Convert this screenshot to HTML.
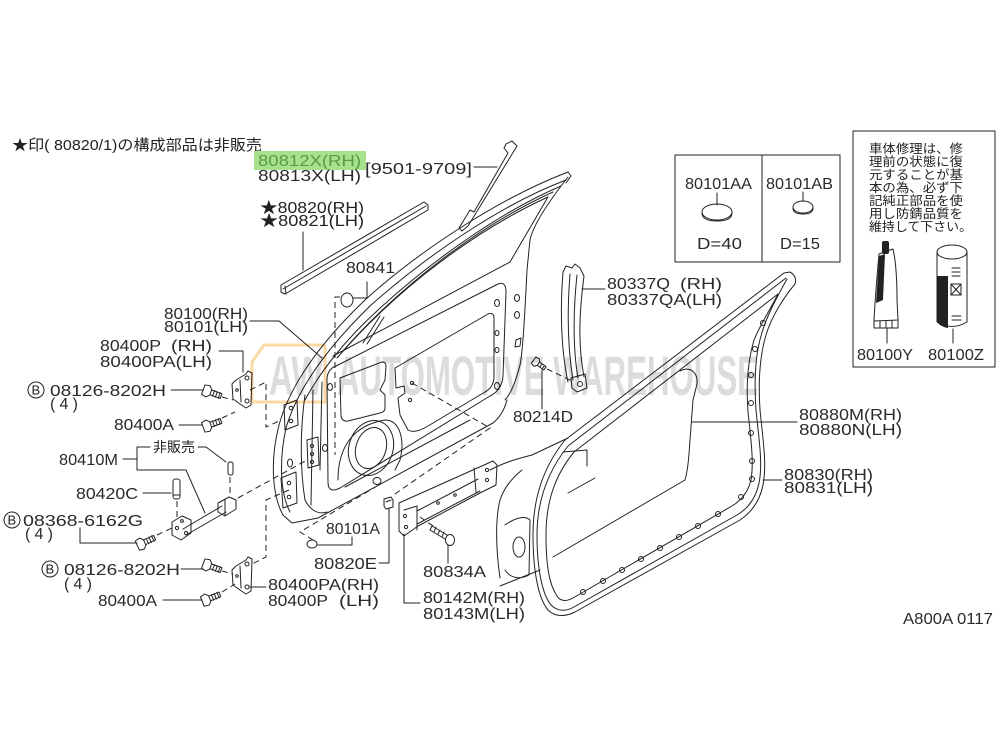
<!DOCTYPE html>
<html><head><meta charset="utf-8"><style>
html,body{margin:0;padding:0;background:#fff;}
svg{display:block;}
.l{fill:none;stroke:#222;stroke-width:1;stroke-linejoin:round;stroke-linecap:round}
.w{fill:#fff;stroke:#222;stroke-width:1;stroke-linejoin:round}
.d{fill:none;stroke:#222;stroke-width:1;stroke-dasharray:6 4}
.t{font-family:"Liberation Sans",sans-serif;font-size:16px;fill:#2a2a2a}
.j{font-family:"Liberation Sans","Noto Sans CJK JP",sans-serif;fill:#222}
.b{font-family:"Liberation Sans",sans-serif;font-size:13px;fill:#222}
.k{fill:#222;stroke:none}
</style></head><body>
<svg width="1000" height="750" viewBox="0 0 1000 750" xmlns="http://www.w3.org/2000/svg">
<rect width="1000" height="750" fill="#fff"/>

<!-- header -->
<text class="j" x="12" y="150" font-size="15" textLength="250" lengthAdjust="spacingAndGlyphs">★印(&#160;80820/1)の構成部品は非販売</text>

<!-- green highlight -->
<rect x="254" y="151" width="112" height="19" fill="#a6e28c"/>
<text class="t" x="258" y="166" textLength="103" lengthAdjust="spacingAndGlyphs" style="fill:#5a9a44">80812X(RH)</text>
<text class="t" x="258" y="181" textLength="103" lengthAdjust="spacingAndGlyphs">80813X(LH)</text>
<text class="t" x="365" y="174" textLength="107" lengthAdjust="spacingAndGlyphs">[9501-9709]</text>
<path class="l" d="M474,167 L497,167"/>

<text class="j" x="260" y="213" font-size="16" textLength="104" lengthAdjust="spacingAndGlyphs">★80820(RH)</text>
<text class="j" x="260" y="226" font-size="16" textLength="104" lengthAdjust="spacingAndGlyphs">★80821(LH)</text>
<path class="l" d="M303,232 L303,270"/>

<text class="t" x="346" y="273" textLength="49" lengthAdjust="spacingAndGlyphs">80841</text>
<path class="l" d="M367,282 L367,298 L353,298"/>

<text class="t" x="164" y="319" textLength="84" lengthAdjust="spacingAndGlyphs">80100(RH)</text>
<text class="t" x="164" y="332" textLength="84" lengthAdjust="spacingAndGlyphs">80101(LH)</text>
<path class="l" d="M250,321 L279,321 L322,358"/>

<text class="t" x="100" y="351" textLength="61" lengthAdjust="spacingAndGlyphs">80400P</text>
<text class="t" x="171" y="351" textLength="41" lengthAdjust="spacingAndGlyphs">(RH)</text>
<text class="t" x="100" y="367" textLength="112" lengthAdjust="spacingAndGlyphs">80400PA(LH)</text>
<path class="l" d="M219,351 L243,351 L243,372"/>

<circle class="l" cx="36" cy="390" r="8"/><text class="b" x="31.5" y="394.5">B</text>
<text class="t" x="50" y="396" textLength="116" lengthAdjust="spacingAndGlyphs">08126-8202H</text>
<text class="t" x="50" y="409" textLength="28" lengthAdjust="spacing">(4)</text>
<path class="l" d="M171,390 L203,390"/>

<text class="t" x="114" y="430" textLength="60" lengthAdjust="spacingAndGlyphs">80400A</text>
<path class="l" d="M179,425 L202,425"/>

<text class="t" x="59" y="465" textLength="59" lengthAdjust="spacingAndGlyphs">80410M</text>
<text class="j" x="153" y="452" font-size="14" textLength="42" lengthAdjust="spacingAndGlyphs">非販売</text>
<path class="l" d="M123,459 L137,459 M137,447 L137,470 M137,447 L150,447 M198,447 L206,447 L226,462 M137,470 L186,470 L205,513"/>

<text class="t" x="76" y="499" textLength="62" lengthAdjust="spacingAndGlyphs">80420C</text>
<path class="l" d="M143,493 L171,493"/>

<circle class="l" cx="12" cy="520" r="8"/><text class="b" x="7.5" y="524.5">B</text>
<text class="t" x="23" y="526" textLength="120" lengthAdjust="spacingAndGlyphs">08368-6162G</text>
<text class="t" x="25" y="539" textLength="28" lengthAdjust="spacing">(4)</text>
<path class="l" d="M80,528 L80,543 L137,543"/>

<circle class="l" cx="50" cy="569" r="8"/><text class="b" x="45.5" y="573.5">B</text>
<text class="t" x="64" y="575" textLength="116" lengthAdjust="spacingAndGlyphs">08126-8202H</text>
<text class="t" x="64" y="589" textLength="28" lengthAdjust="spacing">(4)</text>
<path class="l" d="M181,569 L203,569"/>

<text class="t" x="98" y="606" textLength="59" lengthAdjust="spacingAndGlyphs">80400A</text>
<path class="l" d="M163,600 L202,600"/>

<text class="t" x="268" y="590" textLength="111" lengthAdjust="spacingAndGlyphs">80400PA(RH)</text>
<text class="t" x="268" y="606" textLength="60" lengthAdjust="spacingAndGlyphs">80400P</text>
<text class="t" x="339" y="606" textLength="40" lengthAdjust="spacingAndGlyphs">(LH)</text>
<path class="l" d="M250,587 L266,587"/>

<text class="t" x="326" y="534" textLength="54" lengthAdjust="spacingAndGlyphs">80101A</text>
<path class="l" d="M352,537 L352,545 L318,545"/>
<text class="t" x="314" y="569" textLength="63" lengthAdjust="spacingAndGlyphs">80820E</text>
<path class="l" d="M379,563 L389,563 L389,508"/>
<text class="t" x="423" y="577" textLength="63" lengthAdjust="spacingAndGlyphs">80834A</text>
<path class="l" d="M448,563 L448,545"/>
<text class="t" x="423" y="603" textLength="102" lengthAdjust="spacingAndGlyphs">80142M(RH)</text>
<text class="t" x="423" y="619" textLength="102" lengthAdjust="spacingAndGlyphs">80143M(LH)</text>
<path class="l" d="M420,603 L404,603 L404,534"/>

<text class="t" x="513" y="422" textLength="60" lengthAdjust="spacingAndGlyphs">80214D</text>
<path class="l" d="M542,409 L542,370"/>

<text class="t" x="607" y="289" textLength="63" lengthAdjust="spacingAndGlyphs">80337Q</text>
<text class="t" x="680" y="289" textLength="42" lengthAdjust="spacingAndGlyphs">(RH)</text>
<text class="t" x="607" y="305" textLength="115" lengthAdjust="spacingAndGlyphs">80337QA(LH)</text>
<path class="l" d="M582,289 L605,289"/>

<text class="t" x="799" y="420" textLength="103" lengthAdjust="spacingAndGlyphs">80880M(RH)</text>
<text class="t" x="799" y="435" textLength="103" lengthAdjust="spacingAndGlyphs">80880N(LH)</text>
<path class="l" d="M692,422 L797,422"/>
<text class="t" x="784" y="480" textLength="89" lengthAdjust="spacingAndGlyphs">80830(RH)</text>
<text class="t" x="784" y="493" textLength="89" lengthAdjust="spacingAndGlyphs">80831(LH)</text>
<path class="l" d="M763,480 L782,480"/>

<text class="t" x="903" y="624" textLength="90" lengthAdjust="spacingAndGlyphs" xml:space="preserve">A800A 0117</text>

<!-- grommet box -->
<rect class="l" x="675" y="155" width="165" height="107"/>
<path class="l" d="M762,155 L762,262"/>
<text class="t" x="685" y="189" textLength="67" lengthAdjust="spacingAndGlyphs">80101AA</text>
<text class="t" x="766" y="189" textLength="67" lengthAdjust="spacingAndGlyphs">80101AB</text>
<path class="l" d="M717,193 L717,205 M803,192 L803,201"/>
<ellipse class="l" cx="717" cy="212" rx="15" ry="8"/>
<path class="l" d="M702,213 Q702,221 717,221 Q732,221 732,213"/>
<ellipse class="l" cx="803" cy="207" rx="10" ry="6"/>
<path class="l" d="M793,208 Q793,214 803,214 Q813,214 813,208"/>
<text class="t" x="697" y="249" textLength="45" lengthAdjust="spacingAndGlyphs">D=40</text>
<text class="t" x="780" y="249" textLength="40" lengthAdjust="spacingAndGlyphs">D=15</text>

<!-- repair box -->
<rect class="l" x="853" y="131" width="142" height="236"/>
<g class="j" font-size="12.5">
<text x="869" y="153" textLength="94" lengthAdjust="spacingAndGlyphs">車体修理は、修</text>
<text x="869" y="166" textLength="94" lengthAdjust="spacingAndGlyphs">理前の状態に復</text>
<text x="869" y="179" textLength="94" lengthAdjust="spacingAndGlyphs">元することが基</text>
<text x="869" y="192" textLength="94" lengthAdjust="spacingAndGlyphs">本の為、必ず下</text>
<text x="869" y="205" textLength="94" lengthAdjust="spacingAndGlyphs">記純正部品を使</text>
<text x="869" y="218" textLength="94" lengthAdjust="spacingAndGlyphs">用し防錆品質を</text>
<text x="869" y="231" textLength="103" lengthAdjust="spacingAndGlyphs">維持して下さい。</text>
</g>
<!-- tube -->
<rect class="k" x="882" y="241" width="7" height="13" rx="2"/>
<path class="l" d="M879,254 L893,249 C896,262 897,282 897,300 L898,320 L874,321 C875,300 877,276 879,254 Z"/>
<path class="k" d="M879,256 L885,254 L883,300 L876,303 Z"/>
<path class="l" d="M874,321 L874,328 L898,328 L898,320 M880,321 L880,328 M886,321 L886,328 M892,321 L892,328 M887,328 L887,343"/>
<!-- can -->
<ellipse class="l" cx="952" cy="252" rx="15" ry="7"/>
<path class="l" d="M937,252 L937,322 Q952,331 967,322 L967,252"/>
<path class="k" d="M937,276 L948,276 L948,328 Q941,327 937,322 Z"/>
<rect class="l" x="951" y="284" width="10" height="11"/>
<path class="l" d="M951,284 L961,295 M961,284 L951,295 M952,268 L960,268 M952,272 L960,272 M952,276 L960,276 M952,316 L961,316 M952,320 L961,320 M953,329 L953,343"/>
<text class="t" x="857" y="360" textLength="56" lengthAdjust="spacingAndGlyphs">80100Y</text>
<text class="t" x="928" y="360" textLength="56" lengthAdjust="spacingAndGlyphs">80100Z</text>

<!-- 80812X strip -->
<path class="l" d="M506,144 L512,141 L517,146 L468,226 L462,231 L459,228 L470,210 L474,212 L508,153 L504,148 Z"/>
<!-- 80820 strip -->
<path class="l" d="M281,285 L424,202 L428,205 L428,210 L285,294 L281,292 Z M283,289 L426,206 M285,286 L286,294"/>

<!-- 80841 grommet -->
<ellipse class="l" cx="347" cy="300" rx="6" ry="7"/>
<path class="d" d="M340,297 L335,297 L335,455"/>

<!-- DOOR SHELL -->
<path class="l" d="M568,172 C500,198 420,250 365,300 C320,343 290,385 279,425 C270,460 272,495 283,515 L292,523 L318,518 L493,423 Q503,415 507,400"/>
<path class="l" d="M566,180 C500,205 425,257 370,306 C327,348 297,390 286,428 C279,460 280,493 290,512"/>
<path class="l" d="M561,186 C500,212 430,262 378,310 C345,340 320,372 305,400"/>
<path class="l" d="M553,192 C485,223 405,280 342,352"/>
<path class="l" d="M548,197 C480,228 400,285 337,358"/>
<path class="l" d="M568,172 L571,176 L566,183"/>
<path class="l" d="M568,177 C550,200 533,225 530,240 L527,270 C525,310 523,350 520,365 C516,380 512,392 505,400"/>
<path class="l" d="M548,197 L510,262 L333,356"/>
<path class="l" d="M380,316 L363,343 M384,317 L367,344"/>
<!-- inner panel -->
<path class="l" d="M336,366 L498,284 Q506,281 506,292 L503,376 Q502,390 490,396 L340,488 Q328,494 328,482 L327,378 Q328,369 336,366 Z"/>
<path class="l" d="M340,378 L382,362 Q386,362 386,366 L385,380 L380,390 L385,395 L385,408 Q385,412 380,413 L348,421 Q342,422 341,416 Z"/>
<path class="l" d="M395,368 L488,314 Q494,312 494,318 L494,378 Q493,388 485,392 L428,426 Q415,434 408,430 L400,415 L398,398 L405,393 L404,386 L396,388 Z"/>
<path class="l" d="M338,480 C338,445 355,425 385,420 C400,420 405,440 400,460 L395,470 M345,487 L470,420"/>
<ellipse class="l" cx="371" cy="448" rx="22" ry="28" transform="rotate(18 371 448)"/>
<ellipse class="l" cx="371" cy="448" rx="15" ry="21" transform="rotate(18 371 448)"/>
<!-- front flange -->
<path class="l" d="M305,395 C300,430 300,470 305,500 C310,510 318,515 327,512 M322,382 L320,470 M313,390 L311,505"/>
<path class="l" d="M284,405 L297,400 L298,425 L285,430 Z M307,440 L318,437 L319,465 L308,468 Z M281,478 L296,472 L297,503 L283,508 Z"/>
<g class="l">
<circle cx="291" cy="408" r="1.8"/><circle cx="291" cy="421" r="1.8"/>
<circle cx="312" cy="446" r="1.6"/><circle cx="312" cy="454" r="1.6"/><circle cx="312" cy="462" r="1.6"/>
<circle cx="289" cy="483" r="1.8"/><circle cx="289" cy="497" r="1.8"/>
<ellipse cx="330" cy="387" rx="2.5" ry="3.5"/><ellipse cx="325" cy="448" rx="2.5" ry="3.5"/>
<ellipse cx="290" cy="463" rx="2.5" ry="4"/>
<ellipse cx="377" cy="481" rx="4" ry="3.5"/>
<circle cx="412" cy="383" r="1.6"/><circle cx="410" cy="400" r="1.6"/>
<ellipse cx="497" cy="303" rx="2.5" ry="3.5"/><ellipse cx="497" cy="333" rx="2" ry="2.5"/>
<ellipse cx="497" cy="350" rx="2" ry="2.5"/><ellipse cx="497" cy="386" rx="2.5" ry="3.5"/>
<ellipse cx="517" cy="298" rx="2.5" ry="3.5"/><ellipse cx="517" cy="315" rx="2.5" ry="3.5"/>
<path d="M516,340 L521,338 L520,346 L515,347 Z"/>
</g>

<!-- hinges upper -->
<path class="l" d="M236,380 L246,374 L248,371 L252,373 L251,405 L246,408 L240,404 L233,399 L232,384 Z M240,380 L241,402"/>
<circle class="l" cx="247" cy="378" r="2"/><circle class="l" cx="247" cy="401" r="2"/><circle class="l" cx="237" cy="390" r="1.3"/>
<path class="d" d="M250,390 L266,382 L266,427 L279,421"/>
<path class="d" d="M222,397 L233,400 M222,418 L235,412"/>
<!-- lower hinge -->
<path class="l" d="M236,566 L246,560 L248,557 L252,559 L251,591 L246,594 L240,590 L233,585 L232,570 Z M240,566 L241,588"/>
<circle class="l" cx="247" cy="564" r="2"/><circle class="l" cx="247" cy="587" r="2"/><circle class="l" cx="237" cy="576" r="1.3"/>
<path class="d" d="M289,490 L266,500 L266,557 L250,565"/>
<path class="d" d="M222,571 L233,574 M222,592 L235,584"/>

<!-- bolts -->
<g class="l">
<g transform="translate(207,391) rotate(20)"><path d="M-4,-5 L1,-6 L4,-3 L4,3 L1,6 L-4,5 Z M-4,-5 L-4,5"/><path d="M4,-2.5 L15,-2.5 L15,2.5 L4,2.5 M7,-3 L7,3 M10,-3 L10,3 M13,-3 L13,3"/></g>
<g transform="translate(207,426) rotate(-20)"><path d="M-4,-5 L1,-6 L4,-3 L4,3 L1,6 L-4,5 Z M-4,-5 L-4,5"/><path d="M4,-2.5 L15,-2.5 L15,2.5 L4,2.5 M7,-3 L7,3 M10,-3 L10,3 M13,-3 L13,3"/></g>
<g transform="translate(207,565) rotate(20)"><path d="M-4,-5 L1,-6 L4,-3 L4,3 L1,6 L-4,5 Z M-4,-5 L-4,5"/><path d="M4,-2.5 L15,-2.5 L15,2.5 L4,2.5 M7,-3 L7,3 M10,-3 L10,3 M13,-3 L13,3"/></g>
<g transform="translate(206,600) rotate(-22)"><path d="M-4,-5 L1,-6 L4,-3 L4,3 L1,6 L-4,5 Z M-4,-5 L-4,5"/><path d="M4,-2.5 L15,-2.5 L15,2.5 L4,2.5 M7,-3 L7,3 M10,-3 L10,3 M13,-3 L13,3"/></g>
<g transform="translate(141,544) rotate(-25)"><path d="M-4,-5 L1,-6 L4,-3 L4,3 L1,6 L-4,5 Z M-4,-5 L-4,5"/><path d="M4,-2.5 L15,-2.5 L15,2.5 L4,2.5 M7,-3 L7,3 M10,-3 L10,3 M13,-3 L13,3"/></g>
<g transform="translate(536,362) rotate(35)"><path d="M-3,-4 L1,-4.5 L3,-2 L3,2 L1,4.5 L-3,4 Z"/><path d="M3,-2 L11,-2 L11,2 L3,2 M6,-2 L6,2 M9,-2 L9,2"/></g>
</g>
<path class="d" d="M157,535 L172,528"/>
<path class="d" d="M547,369 L572,381"/>

<!-- check link -->
<path class="l" d="M183,529 L222,506 M186,535 L226,512"/>
<path class="l" d="M172,522 L182,516 L191,520 L191,533 L181,540 L172,535 Z"/>
<circle class="l" cx="177" cy="528" r="1.6"/><circle class="l" cx="186" cy="533" r="1.6"/><circle class="l" cx="182" cy="521" r="1.4"/>
<path class="l" d="M218,503 L229,497 L236,500 L236,509 L225,516 L218,512 Z M225,500 L225,515"/>
<rect class="l" x="228" y="462" width="5" height="13" rx="2"/>
<path class="d" d="M230,477 L230,496"/>
<rect class="l" x="173" y="479" width="7" height="20" rx="2.5"/>
<path class="l" d="M173,495 L180,495"/>
<path class="d" d="M177,501 L177,518"/>
<path class="d" d="M238,498 L307,460"/>

<!-- door dashes -->
<path class="d" d="M313,540 L300,532 L377,486"/>
<path class="d" d="M412,383 L490,428 L392,496"/>
<ellipse class="l" cx="312" cy="544" rx="5" ry="4"/>

<!-- clip 80820E -->
<path class="l" d="M384,499 L391,497 L393,500 L393,507 L386,509 L384,506 Z M386,502 L391,500"/>

<!-- bracket 80142M -->
<path class="l" d="M399,503 L493,461 L497,465 L496,485 L480,493 L418,526 L404,536 L399,531 Z"/>
<path class="l" d="M417,511 L478,479 M417,524 L480,491 M404,510 L417,506 L417,530 M474,468 L476,492"/>
<g class="l"><circle cx="405" cy="516" r="1.6"/><circle cx="406" cy="527" r="1.6"/><circle cx="487" cy="470" r="1.6"/><circle cx="487" cy="480" r="1.6"/><circle cx="455" cy="495" r="1.3"/><circle cx="438" cy="503" r="1.3"/></g>
<path class="d" d="M420,517 L436,528"/>
<!-- screw 80834A -->
<path class="l" d="M432,526 L447,535 M430,530 L445,539 M432,526 L430,530 M436,527 L434,532 M440,530 L438,534 M444,532 L442,537"/>
<ellipse class="l" cx="450" cy="540" rx="4.5" ry="5.5"/>

<!-- 80337Q -->
<path class="l" d="M563,272 C560,310 561,350 568,382 M584,276 C579,315 578,345 584,377 M570,274 C567,312 568,350 573,380 M577,275 C573,312 573,350 578,378 M563,272 L566,266 L572,268 L575,264 L580,268 L584,276"/>
<path class="l" d="M571,378 L585,374 L587,388 L577,392 L572,388 Z"/>
<circle class="l" cx="580" cy="384" r="2.5"/>

<!-- rear panel piece left of seal -->
<path class="l" d="M490,470 C505,462 520,458 532,455 L568,438 M500,578 C496,550 495,520 500,500 C504,488 512,478 522,470 M505,525 C515,518 525,515 530,520 L529,575 C520,580 510,578 505,570 M500,586 L540,570"/>
<ellipse class="l" cx="519" cy="547" rx="6" ry="10"/>

<!-- 80880M sheet -->
<path class="l" d="M680,371 C690,366 698,372 697,384 L693,400 L690,440 C689,455 688,470 685,480 L553,557"/>
<path class="l" d="M568,493 L595,478 M563,452 L587,450 L587,466"/>

<!-- seal 80830 -->
<path class="l" d="M790,272 C794,274 797,279 795,284 C785,296 772,315 766,335 C760,355 758,380 760,410 C763,440 767,465 763,485 C760,500 752,512 740,520 L575,612 C565,617 555,617 548,610 C538,598 533,570 533,535 C533,495 545,465 565,440 L784,273 Z"/>
<path class="l" d="M787,279 C777,297 766,317 761,336 C755,356 754,380 756,410 C759,440 763,464 759,483 C756,497 749,508 737,515 L574,607 C565,612 557,611 551,605 C542,594 537,568 537,535 C537,500 548,471 568,446 L786,278"/>
<path class="l" d="M778,294 C770,310 760,325 754,340 C748,360 746,385 748,412 C751,440 754,462 751,480 C748,492 742,500 732,506 L573,598 C566,602 560,601 557,596 C549,584 546,565 546,535 C546,500 556,474 574,452 L778,294"/>
<g class="l">
<circle cx="583" cy="592" r="2.5"/><circle cx="603" cy="581" r="2.5"/><circle cx="622" cy="570" r="2.5"/><circle cx="641" cy="559" r="2.5"/><circle cx="660" cy="548" r="2.5"/><circle cx="679" cy="537" r="2.5"/><circle cx="698" cy="526" r="2.5"/><circle cx="718" cy="514" r="2.5"/><circle cx="741" cy="497" r="2.5"/>
<circle cx="752" cy="479" r="2.5"/><circle cx="752" cy="461" r="2.5"/><circle cx="751" cy="433" r="2.5"/><circle cx="751" cy="403" r="2.5"/><circle cx="751" cy="375" r="2.5"/><circle cx="755" cy="349" r="2.5"/><circle cx="763" cy="323" r="2.5"/>
</g>

<!-- watermark -->
<g style="mix-blend-mode:multiply">
<path d="M264,345 L322,345 Q325,345 325,348 L325,402 L252,402 L252,362 Z" fill="none" stroke="#fbd9a4" stroke-width="3"/>
<text x="269" y="395" font-family="Liberation Sans,sans-serif" font-weight="bold" font-size="56" fill="#dcdcdc" textLength="54" lengthAdjust="spacingAndGlyphs">AW</text>
<text x="337" y="395" font-family="Liberation Sans,sans-serif" font-weight="bold" font-size="56" fill="#dcdcdc" textLength="421" lengthAdjust="spacingAndGlyphs" xml:space="preserve">AUTOMOTIVE WAREHOUSE</text>
</g>
</svg>
</body></html>
